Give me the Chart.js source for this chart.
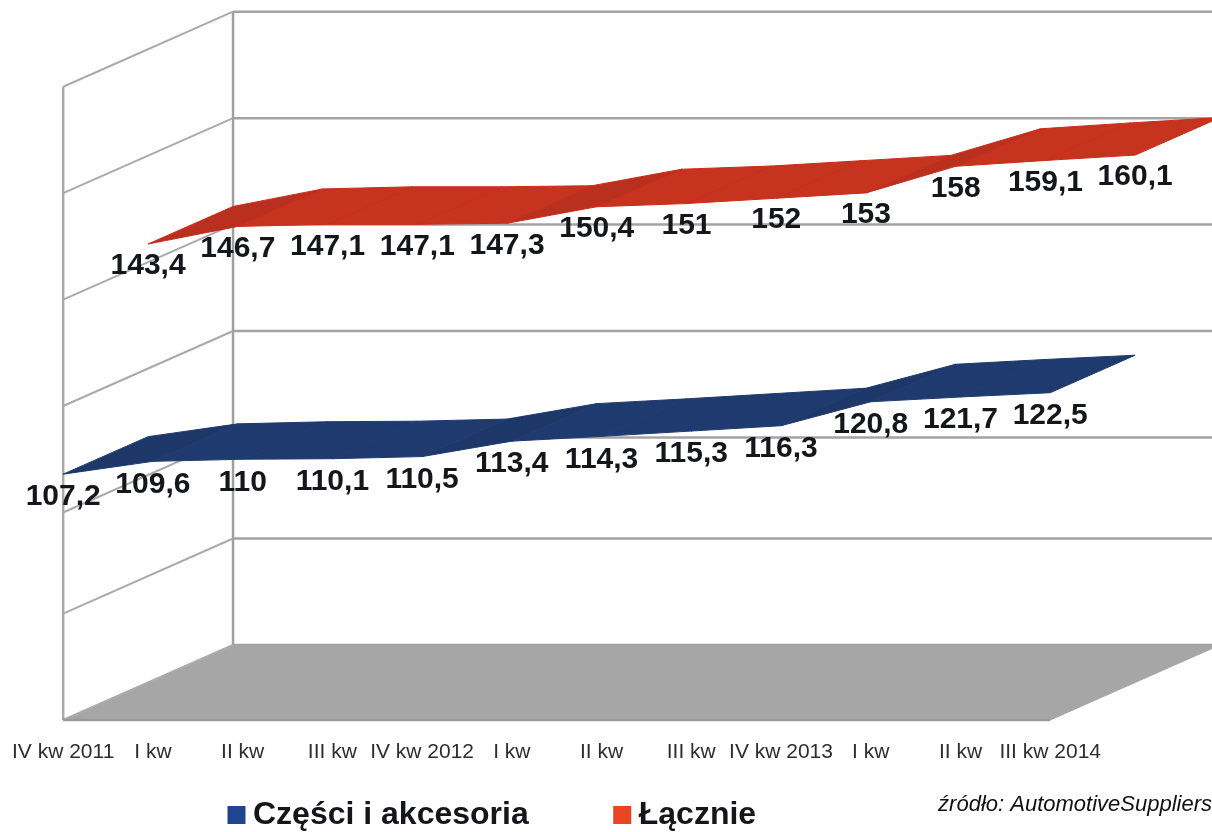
<!DOCTYPE html>
<html lang="pl">
<head>
<meta charset="utf-8">
<title>Części i akcesoria</title>
<script src="https://cdn.jsdelivr.net/npm/chart.js@4/dist/chart.umd.min.js"></script>
<style>html,body{margin:0;padding:0;background:#fff}canvas{display:block}</style>
</head>
<body>
<canvas id="chart" width="1212" height="832"></canvas>
<script>
// Quarterly labels along the front edge of the floor
const tickLabels = ['IV kw 2011','I kw','II kw','III kw','IV kw 2012','I kw','II kw','III kw','IV kw 2013','I kw','II kw','III kw 2014'];
const partsValues = [107.2,109.6,110,110.1,110.5,113.4,114.3,115.3,116.3,120.8,121.7,122.5];
const totalValues = [143.4,146.7,147.1,147.1,147.3,150.4,151,152,153,158,159.1,160.1];
const gridLevels = [61,81,100,120,140,160,180];
const seriesNames = ['Części i akcesoria','Łącznie'];
const sourceNote = 'źródło: AutomotiveSuppliers';

// Oblique projection: depth 0 is the front plane, depth 1 the back wall
const DEPTH_X = 1.893, DEPTH_Y = 14.1;
const project = (i, v, d) => ({x: i + d * DEPTH_X, y: v + d * DEPTH_Y});
const lastIndex = tickLabels.length - 1;
const baseValue = gridLevels[0], topValue = gridLevels[gridLevels.length - 1];

const polygon = (label, data, color, order, border) => ({
  label, data, order, showLine: true, fill: 'shape', tension: 0, clip: false,
  backgroundColor: color, borderColor: border || color, borderWidth: 1, pointRadius: 0
});
const polyline = (label, data, color, width, order) => ({
  label, data, order, showLine: true, fill: false, tension: 0, clip: false,
  borderColor: color, borderWidth: width, pointRadius: 0
});

// A ribbon is one quadrilateral per quarter; steeper rises get the darker shade
function ribbon(name, values, d0, d1, flat, steep, edge, order) {
  const quads = [];
  for (let i = 0; i < values.length - 1; i++) {
    const a = values[i], b = values[i + 1];
    quads.push(polygon(name + ' ' + i, [
      project(i, a, d0), project(i + 1, b, d0), project(i + 1, b, d1), project(i, a, d1), project(i, a, d0)
    ], b - a >= 2 ? steep : flat, order, edge));
  }
  return quads;
}

const datasets = [
  polygon('floor', [project(0, baseValue, 0), project(lastIndex, baseValue, 0), project(lastIndex, baseValue, 1), project(0, baseValue, 1), project(0, baseValue, 0)], '#a6a6a6', 20, '#a6a6a6'),
  polyline('wall left', [project(0, baseValue, 0), project(0, topValue, 0)], '#a9a9a9', 2.5, 18),
  polyline('wall back', [project(0, baseValue, 1), project(0, topValue, 1)], '#a0a0a0', 2.5, 18),
  polyline('floor front', [project(0, baseValue, 0), project(lastIndex, baseValue, 0)], '#9a9a9a', 2.5, 17),
  ...gridLevels.map(v => polyline('side ' + v, [project(0, v, 0), project(0, v, 1)], '#aaaaaa', 2, 19)),
  ...gridLevels.map(v => polyline('back ' + v, [project(0, v, 1), project(lastIndex, v, 1)], '#a3a3a3', 2.5, 19)),
  ...ribbon(seriesNames[0], partsValues, 0, 0.5, '#1f3a6e', '#1d3769', '#1f3a6e', 5),
  ...ribbon(seriesNames[1], totalValues, 0.5, 1, '#c6341f', '#b9301e', '#cc2a1a', 6)
];

// Value labels sit just under the front edge of each ribbon
const valueLabels = {
  id: 'valueLabels',
  afterDatasetsDraw(chart) {
    const {ctx, scales: {x, y}} = chart;
    ctx.save();
    ctx.font = 'bold 30px "Liberation Sans", Arial, sans-serif';
    ctx.fillStyle = '#14161c';
    ctx.textAlign = 'center';
    ctx.textBaseline = 'middle';
    [[partsValues, 0, 23], [totalValues, 0.5, 22]].forEach(([values, depth, drop]) => {
      values.forEach((v, i) => {
        const p = project(i, v, depth);
        ctx.fillText(String(v).replace('.', ','), x.getPixelForValue(p.x), y.getPixelForValue(p.y) + drop);
      });
    });
    ctx.font = 'italic 22px "Liberation Sans", Arial, sans-serif';
    ctx.fillStyle = '#111';
    ctx.textAlign = 'right';
    ctx.fillText(sourceNote, 1212, 805);
    ctx.restore();
  }
};

// The legend floats below the axis, away from the centred default
const legendPlacement = {
  id: 'legendPlacement',
  afterLayout(chart) {
    chart.legend.left = 143;
    chart.legend.right = 1100;
    chart.legend.top = 706;
    chart.legend.bottom = 832;
  }
};

new Chart(document.getElementById('chart'), {
  type: 'scatter',
  data: {datasets},
  plugins: [valueLabels, legendPlacement],
  options: {
    responsive: false,
    animation: false,
    layout: {padding: {left: 62, right: 0, top: 0, bottom: 51}},
    scales: {
      x: {
        type: 'linear', min: 0, max: 12.803,
        grid: {display: false}, border: {display: false},
        afterBuildTicks: axis => { axis.ticks = tickLabels.map((_, i) => ({value: i})); },
        afterFit: axis => { axis.height = 60; },
        ticks: {
          autoSkip: false, maxRotation: 0, minRotation: 0, padding: 12,
          color: '#2e2e2e', font: {family: '"Liberation Sans", Arial, sans-serif', size: 21},
          callback: v => tickLabels[v]
        }
      },
      y: {type: 'linear', min: 61, max: 196.3, display: false}
    },
    plugins: {
      tooltip: {enabled: false},
      legend: {
        position: 'bottom',
        align: 'start',
        maxHeight: 1,
        labels: {
          usePointStyle: true, boxWidth: 1, boxHeight: 18, padding: 93,
          font: {family: '"Liberation Sans", Arial, sans-serif', size: 32, weight: 'bold'},
          generateLabels: () => [
            {text: seriesNames[0], fillStyle: '#1f4490', strokeStyle: '#1f4490', fontColor: '#14161c', lineWidth: 0, pointStyle: 'rect', hidden: false},
            {text: seriesNames[1], fillStyle: '#ea4424', strokeStyle: '#ea4424', fontColor: '#14161c', lineWidth: 0, pointStyle: 'rect', hidden: false}
          ]
        }
      }
    }
  }
});
</script>
</body>
</html>
